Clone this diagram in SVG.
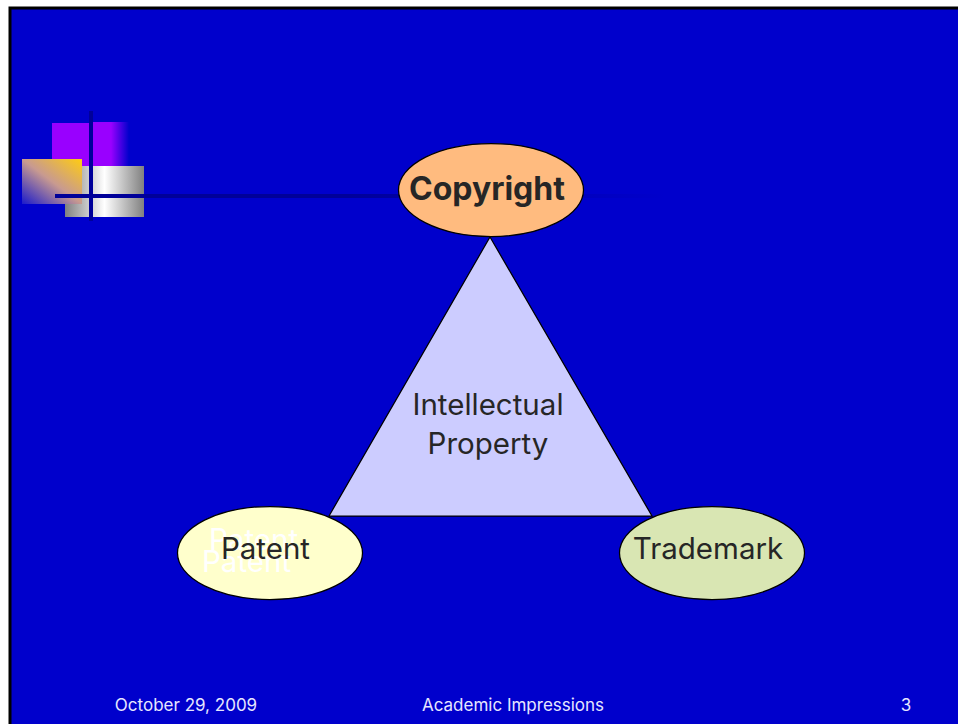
<svg xmlns="http://www.w3.org/2000/svg" width="958" height="724" viewBox="0 0 958 724">
<style>
.t{font-family:Inter,"Noto Sans","DejaVu Sans",sans-serif;fill:#262626;font-size:29.500px;text-anchor:middle}
.f{font-family:Inter,"Noto Sans","DejaVu Sans",sans-serif;fill:#e6e6ff;font-size:17px;text-anchor:middle}
.w{font-family:Inter,"Noto Sans","DejaVu Sans",sans-serif;fill:#fff;font-size:29.500px}
.s{stroke:#000;stroke-width:1.25}
</style>
<defs>
<linearGradient id="pg" x1="0" x2="1" y1="0" y2="0"><stop offset="0" stop-color="#9900ff"/><stop offset=".5" stop-color="#9900ff"/><stop offset="1" stop-color="#0000cc"/></linearGradient>
<linearGradient id="sg" x1="0" x2="1" y1="0" y2="0"><stop offset="0" stop-color="#808080"/><stop offset=".5" stop-color="#fff"/><stop offset="1" stop-color="#808080"/></linearGradient>
<linearGradient id="yg" x1="0" y1="1" x2="1" y2="0"><stop offset="0" stop-color="#1a1acc"/><stop offset=".5" stop-color="#c89a90"/><stop offset="1" stop-color="#ffcc11"/></linearGradient>
<linearGradient id="lg" x1="0" x2="1" y1="0" y2="0"><stop offset="0" stop-color="#000099"/><stop offset=".48" stop-color="#000099"/><stop offset="1" stop-color="#000099" stop-opacity="0"/></linearGradient>
</defs>
<rect width="958" height="724" fill="#fff"/>
<rect x="10" y="8" width="960" height="730" fill="#0000cc" stroke="#000" stroke-width="3"/>
<g id="decor">
<rect x="52" y="123" width="40" height="43" fill="#9900ff"/>
<rect x="93" y="122" width="36" height="44" fill="url(#pg)"/>
<rect x="65" y="166" width="79" height="51" fill="url(#sg)"/>
<rect x="22" y="159" width="60" height="45" fill="url(#yg)"/>
<rect x="89" y="111" width="4" height="110" fill="#000099"/>
<rect x="55" y="194" width="610" height="4" fill="url(#lg)"/>
</g>
<g id="triangle"><polygon class="s" points="490,237 652,516 329,516" fill="#ccccff"/>
<text class="t" x="488" y="415">Intellectual</text><text class="t" x="488" y="454">Property</text></g>
<g id="copyright"><ellipse class="s" cx="491" cy="190" rx="92.500" ry="46.500" fill="#ffbb7f"/>
<text class="t" x="487" y="200" font-weight="700" style="font-size:32px">Copyright</text></g>
<g id="patent"><ellipse class="s" cx="270" cy="553" rx="92.500" ry="46.500" fill="#ffffcc"/>
<text class="w" x="209" y="550">Patent</text><text class="w" x="202" y="572">Patent</text>
<text class="t" x="265.500" y="559">Patent</text></g>
<g id="trademark"><ellipse class="s" cx="712" cy="553" rx="92.500" ry="46.500" fill="#d9e6b3"/>
<text class="t" x="708" y="559">Trademark</text></g>
<g id="footer"><text class="f" x="186" y="711">October 29, 2009</text><text class="f" x="513" y="711">Academic Impressions</text><text class="f" x="906" y="711">3</text></g>
</svg>
